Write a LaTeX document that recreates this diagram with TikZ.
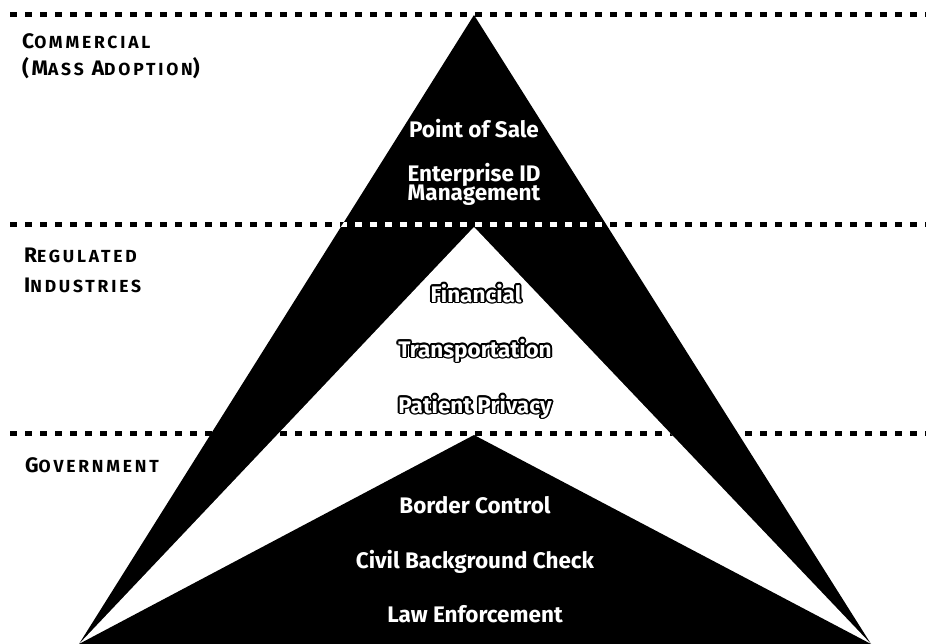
\documentclass[tikz,border=0pt]{standalone}
\usepackage{fontspec}
\setmainfont{Fira Sans}
\usetikzlibrary{calc}
\newcommand\lcap[1]{{\fontsize{21}{21}\selectfont\addfontfeature{LetterSpace=12}#1}}
\newcommand\lsm[1]{{\fontsize{17.5}{17.5}\selectfont\addfontfeature{LetterSpace=16}#1}}
\newcommand\outtext[3]{%
  \foreach \a in {0,30,...,330} {\node[ctext,text=black] (#1-\a) at ($(#2)+(\a:1.9)$) {#3};}
  \node[ctext] (#1) at (#2) {#3};
}
\tikzset{
  ctext/.style={font=\fontsize{22.5}{22.5}\selectfont\bfseries, text=white, inner sep=0pt, anchor=base},
  lab/.style={anchor=base west, inner sep=0pt, font=\bfseries},
  dotline/.style={line width=5pt, dash pattern=on 7pt off 8pt},
}
\begin{document}
\begin{tikzpicture}[x=1pt,y=-1pt]
\useasboundingbox (0,0) rectangle (926,644);
\coordinate (L) at (79,644);
\coordinate (R) at (871,644);
\coordinate (A1) at (474,15);
\coordinate (A2) at (474,227);
\coordinate (A3) at (474,435);
\coordinate (d1s) at (10,15);  \coordinate (d1e) at (930,15);
\coordinate (d2s) at (10,225); \coordinate (d2e) at (930,225);
\coordinate (d3s) at (10,433); \coordinate (d3e) at (930,433);
% dotted separators
\draw[dotline] (d1s) -- (d1e);
\draw[dotline] (d2s) -- (d2e);
\draw[dotline] (d3s) -- (d3e);
% outer black triangle
\fill[black] (A1) -- (L) -- (R) -- cycle;
\begin{scope}
  \clip (A1) -- (L) -- (R) -- cycle;
  \draw[dotline,white] (d2s) -- (d2e);
\end{scope}
% white triangle
\fill[white] (A2) -- (L) -- (R) -- cycle;
\begin{scope}
  \clip (A2) -- (L) -- (R) -- cycle;
  \draw[dotline] (d3s) -- (d3e);
\end{scope}
% inner black triangle
\fill[black] (A3) -- (L) -- (R) -- cycle;
% left labels
\node[lab] (com1) at (22,49) {\lcap{C}\lsm{OMMERCIAL}};
\node[lab] (com2) at (22,76) {\lcap{(M}\lsm{ASS}\hspace{8pt}\lcap{A}\lsm{DOPTION}\lcap{)}};
\node[lab] (reg1) at (24,263) {\lcap{R}\lsm{EGULATED}};
\node[lab] (reg2) at (24,293) {\lcap{I}\lsm{NDUSTRIES}};
\node[lab] (gov) at (25,472) {\lcap{G}\lsm{OVERNMENT}};
% top texts
\node[ctext] (pos) at (474,138) {Point of Sale};
\node[ctext] (eid1) at (474,182) {Enterprise ID};
\node[ctext] (eid2) at (474,201) {Management};
% outlined texts
\coordinate (finp) at (476,302);
\coordinate (trap) at (475,357);
\coordinate (patp) at (475,413);
\outtext{fin}{finp}{Financial}
\outtext{tra}{trap}{Transportation}
\outtext{pat}{patp}{Patient Privacy}
% bottom texts
\node[ctext] (bor) at (475,513) {Border Control};
\node[ctext] (civ) at (475,568) {Civil Background Check};
\node[ctext] (law) at (475,622) {Law Enforcement};
\end{tikzpicture}
\end{document}
